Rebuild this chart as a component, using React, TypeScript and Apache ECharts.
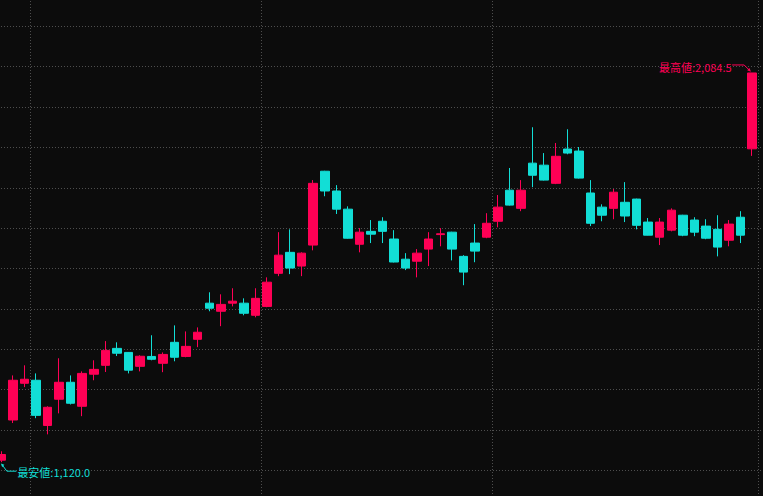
import React, { useEffect, useRef } from "react";
import * as echarts from "echarts";

// OHLC values (66 sessions)
const opens = [
  1125, 1224.5, 1315.5, 1323, 1211, 1276, 1318, 1258.5, 1338, 1360,
  1402, 1392, 1357.5, 1382, 1365, 1417, 1382, 1424.5, 1514, 1494,
  1514, 1514, 1484, 1506, 1588, 1640, 1606, 1658, 1841, 1792,
  1747, 1660, 1692, 1717, 1673, 1623, 1618, 1648, 1684, 1690,
  1630, 1663, 1677.5, 1717, 1794, 1749, 1861, 1856, 1811, 1896,
  1891, 1787, 1752, 1749, 1764, 1772, 1715, 1677.5, 1695, 1732,
  1720, 1705, 1697, 1670, 1727, 1896.5,
];
const closes = [
  1139, 1323, 1325.5, 1236, 1256, 1318, 1266, 1340, 1350, 1397,
  1390, 1348, 1382.5, 1375, 1387, 1380, 1407, 1442, 1501.5, 1511,
  1519, 1489, 1526, 1566, 1633, 1601, 1638, 1811, 1792, 1747,
  1675, 1690, 1685, 1692, 1616, 1601, 1638, 1673, 1686, 1648,
  1591, 1643, 1712, 1752, 1757, 1794, 1831, 1819, 1878, 1886,
  1824, 1712, 1732, 1789, 1730, 1707, 1682.5, 1715, 1744.5, 1682.5,
  1690, 1675, 1653, 1710, 1682.5, 2084.5,
];
const lows = [
  1120, 1217, 1306, 1229, 1189, 1241, 1263, 1234, 1323, 1343.5,
  1383, 1340, 1345, 1372.5, 1343, 1370, 1380, 1405, 1494, 1457,
  1506, 1484, 1479, 1504, 1581, 1586, 1581, 1645, 1779, 1735,
  1674, 1640, 1663, 1663, 1615, 1596, 1578, 1606, 1655, 1620,
  1558.5, 1615.5, 1675, 1702, 1756, 1742, 1801.5, 1818, 1809, 1883,
  1823, 1705, 1717, 1722, 1715, 1697, 1682, 1658, 1692, 1680,
  1680, 1672.5, 1630, 1655, 1663, 1879,
];
const highs = [
  1147, 1335, 1360, 1340, 1258.5, 1377.5, 1335, 1345, 1372.5, 1420,
  1417, 1393, 1385, 1434.5, 1392, 1459, 1444, 1454, 1541, 1536,
  1551, 1526, 1551, 1578, 1690, 1697, 1640, 1819, 1842, 1806.5,
  1754, 1700, 1720, 1727, 1695, 1638, 1648, 1690, 1700, 1691,
  1633, 1710, 1737, 1782, 1849, 1819, 1950, 1886, 1911, 1945,
  1901, 1819, 1759, 1797, 1814, 1773, 1725, 1725, 1749, 1733,
  1727, 1722, 1732, 1720, 1742, 2084.5,
];
const categories = opens.map((_, i) => String(i + 1));

// y-axis scale (labels hidden in the reference; grid runs past the page edges)
const yMin = 1000;
const yMax = 2300;
const yStep = 100;
// category boundaries where vertical grid lines appear
const vLineIdx = [3, 23, 43];

const MAX_LABEL = "最高値";
const MIN_LABEL = "最安値";

const UP = "#ff0055";
const DOWN = "#12ded6";
const FONT = '"Noto Sans CJK JP", "Noto Sans", sans-serif';

const fmt = (v: number) =>
  v.toLocaleString("en-US", { minimumFractionDigits: 1, maximumFractionDigits: 1 });

// the chart canvas overhangs the visible page by PAD pixels on every side
const PAD = 20;
const W = 763 + 2 * PAD;
const H = 496 + 2 * PAD;

export default function App() {
  const ref = useRef<HTMLDivElement>(null);
  useEffect(() => {
    if (!ref.current) return;
    const chart = echarts.init(ref.current, undefined, { renderer: "svg" });
    const data = opens.map((o, i) => [o, closes[i], lows[i], highs[i]]);
    const gridColor = "#4e4e4e";
    const dotted = { color: gridColor, type: [1, 2], width: 1 };
    const top = PAD - 14;
    const bottom = H - (PAD + 510.6);
    chart.setOption({
      animation: false,
      backgroundColor: "#0c0c0c",
      grid: [
        { left: PAD - 4.4, right: W - (PAD + 757.9), top, bottom, containLabel: false },
        { left: 0, right: 0, top, bottom, containLabel: false },
      ],
      xAxis: [
        {
          type: "category",
          gridIndex: 0,
          data: categories,
          boundaryGap: true,
          axisLine: { show: false },
          axisTick: { show: false },
          axisLabel: { show: false },
          splitLine: {
            show: true,
            interval: (i: number) => vLineIdx.includes(i),
            lineStyle: dotted,
          },
        },
        {
          type: "value",
          gridIndex: 1,
          show: false,
        },
      ],
      yAxis: [
        {
          type: "value",
          gridIndex: 0,
          min: yMin,
          max: yMax,
          interval: yStep,
          axisLine: { show: false },
          axisTick: { show: false },
          axisLabel: { show: false },
          splitLine: { show: false },
        },
        {
          type: "value",
          gridIndex: 1,
          min: yMin,
          max: yMax,
          interval: yStep,
          axisLine: { show: false },
          axisTick: { show: false },
          axisLabel: { show: false },
          splitLine: { show: true, lineStyle: dotted },
        },
      ],
      series: [
        {
          type: "candlestick",
          xAxisIndex: 0,
          yAxisIndex: 0,
          data,
          barWidth: 9,
          itemStyle: {
            color: UP,
            color0: DOWN,
            borderColor: UP,
            borderColor0: DOWN,
            borderWidth: 1,
          },
        },
      ],
    });

    const maxVal = Math.max(...highs);
    const maxIdx = highs.indexOf(maxVal);
    const minVal = Math.min(...lows);
    const minIdx = lows.indexOf(minVal);
    const [hx, hy] = chart.convertToPixel({ gridIndex: 0 }, [maxIdx, maxVal]) as number[];
    const [lx, ly] = chart.convertToPixel({ gridIndex: 0 }, [minIdx, minVal]) as number[];

    chart.setOption({
      graphic: [
        {
          type: "polyline",
          silent: true,
          z: 100,
          shape: { points: [[hx - 20, hy - 8], [hx - 8, hy - 8], [hx - 2.5, hy - 2.5]] },
          style: { stroke: UP, lineWidth: 1, fill: "none" },
        },
        {
          type: "polygon",
          silent: true,
          z: 100,
          shape: { points: [[hx - 1.2, hy - 1.2], [hx - 5, hy - 2.6], [hx - 2.6, hy - 5]] },
          style: { fill: UP },
        },
        {
          type: "text",
          silent: true,
          z: 100,
          x: hx - 20.5,
          y: hy - 6,
          style: {
            text: `${MAX_LABEL}:${fmt(maxVal)}`,
            fill: UP,
            font: `11px ${FONT}`,
            align: "right",
            verticalAlign: "middle",
          },
        },
        {
          type: "polyline",
          silent: true,
          z: 100,
          shape: { points: [[lx + 1, ly + 3], [lx + 5.5, ly + 9], [lx + 15, ly + 9]] },
          style: { stroke: DOWN, lineWidth: 1, fill: "none" },
        },
        {
          type: "polygon",
          silent: true,
          z: 100,
          shape: { points: [[lx - 0.5, ly + 1.2], [lx + 3, ly + 2.6], [lx + 0.8, ly + 5]] },
          style: { fill: DOWN },
        },
        {
          type: "text",
          silent: true,
          z: 100,
          x: lx + 16,
          y: ly + 9.5,
          style: {
            text: `${MIN_LABEL}:${fmt(minVal)}`,
            fill: DOWN,
            font: `11px ${FONT}`,
            align: "left",
            verticalAlign: "middle",
          },
        },
      ],
    });

    return () => chart.dispose();
  }, []);

  return (
    <div
      ref={ref}
      style={{ position: "fixed", left: -PAD, top: -PAD, width: W, height: H }}
    />
  );
}
